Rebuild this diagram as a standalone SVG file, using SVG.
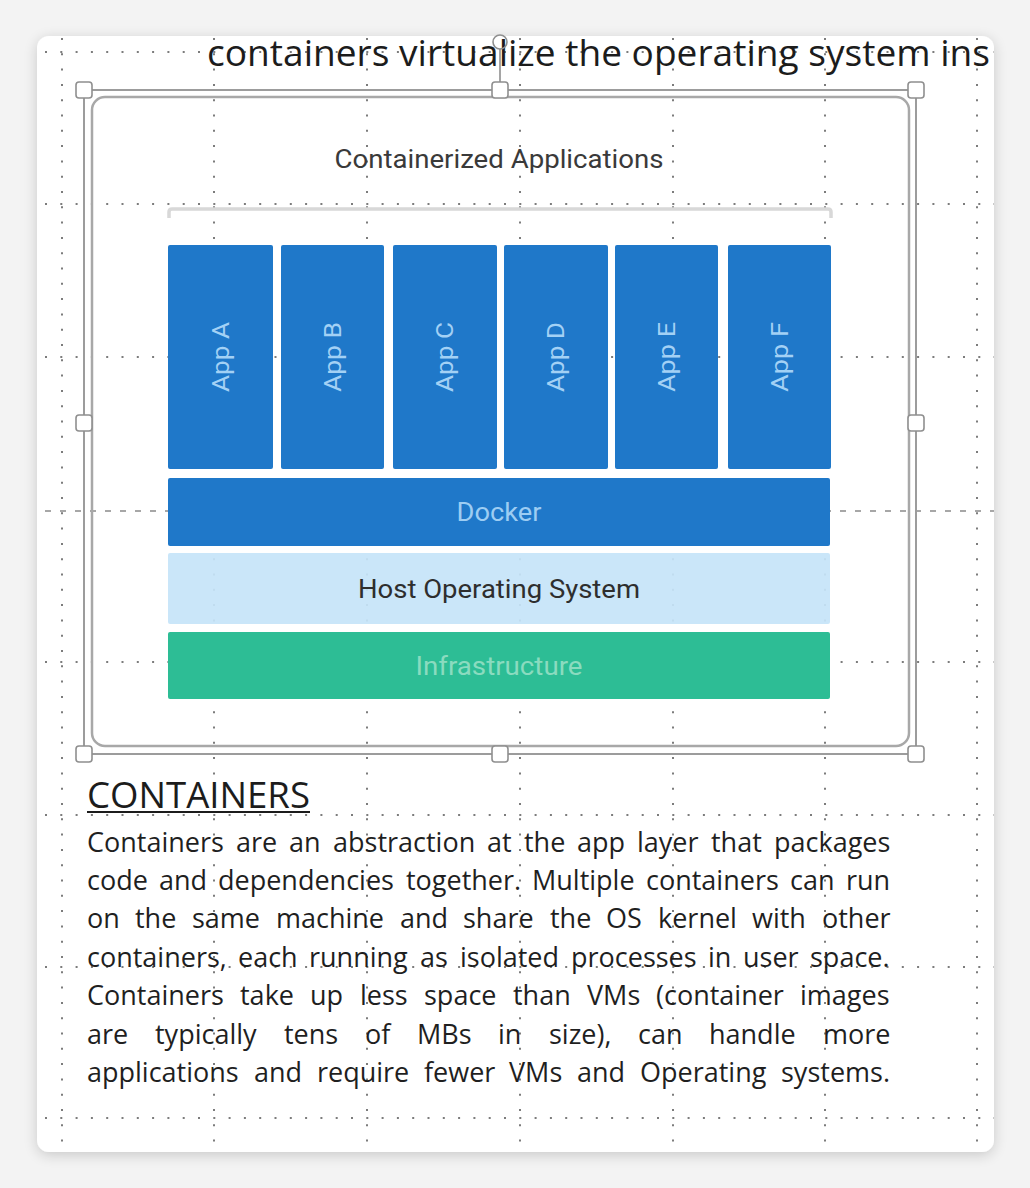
<svg xmlns="http://www.w3.org/2000/svg" width="1030" height="1188" viewBox="0 0 1030 1188">
<style>
.grid{stroke:#7c7c7c;stroke-width:2;stroke-dasharray:2 13.3;fill:none}
.gridd{stroke:#8a8a8a;stroke-width:1.6;stroke-dasharray:6 9;fill:none}
.app{fill:#1f78c9}
.applbl{font-family:Roboto,"Open Sans",sans-serif;font-size:24px;font-weight:400;fill:#a3d1f5;text-anchor:middle;dominant-baseline:central}
.lbl{font-family:Roboto,"Open Sans",sans-serif;font-size:26px;font-weight:400;text-anchor:middle}
.body{font-family:"Open Sans","Liberation Sans",sans-serif;font-size:27px;fill:#1f1f1f}
.handle{fill:#ffffff;stroke:#8f8f8f;stroke-width:1.6}
.sel{fill:none;stroke:#9c9c9c;stroke-width:2}
</style>
<defs>
<filter id="sh" x="-10%" y="-10%" width="120%" height="120%">
<feGaussianBlur in="SourceAlpha" stdDeviation="7"/>
<feOffset dx="0" dy="3"/>
<feComponentTransfer><feFuncA type="linear" slope="0.18"/></feComponentTransfer>
<feMerge><feMergeNode/><feMergeNode in="SourceGraphic"/></feMerge>
</filter>
<clipPath id="cardclip"><rect x="37" y="36" width="957" height="1116" rx="12"/></clipPath>
</defs>
<rect x="0" y="0" width="1030" height="1188" fill="#f3f3f3"/>
<rect x="37" y="36" width="957" height="1116" rx="12" fill="#ffffff" filter="url(#sh)"/>
<g clip-path="url(#cardclip)">
<g id="grid">
<path class="grid" d="M62,38V1152M214,38V1152M367,38V1152M520,38V1152M673,38V1152M825,38V1152M977,38V1152"/>
<path class="grid" d="M45,52H994M45,204H994M45,357H994M45,662H994M45,815H994M45,967H994M45,1118H994"/>
<path class="gridd" d="M45,511H994"/>
</g>
<text id="title" x="207" y="66" font-family="'Open Sans','Liberation Sans',sans-serif" font-size="36" fill="#1c1c1c" textLength="783" lengthAdjust="spacingAndGlyphs">containers virtualize the operating system ins</text>
</g>
<g id="image-frame">
<rect x="92" y="97" width="817" height="649" rx="13" fill="none" stroke="#a8a8a8" stroke-width="2.5"/>
</g>
<g id="header">
<text class="lbl" x="499" y="168" fill="#3a3a3a" textLength="329" lengthAdjust="spacingAndGlyphs">Containerized Applications</text>
<path d="M169,218V212Q169,209 172,209H828Q831,209 831,212V218" fill="none" stroke="#d8d8d8" stroke-width="3.5"/>
</g>
<g id="app-a"><rect class="app" x="168" y="245" width="105" height="224" rx="2"/><text class="applbl" transform="translate(220.5,357) rotate(-90)" textLength="70" lengthAdjust="spacingAndGlyphs">App A</text></g>
<g id="app-b"><rect class="app" x="281" y="245" width="103" height="224" rx="2"/><text class="applbl" transform="translate(332.5,357) rotate(-90)" textLength="70" lengthAdjust="spacingAndGlyphs">App B</text></g>
<g id="app-c"><rect class="app" x="393" y="245" width="104" height="224" rx="2"/><text class="applbl" transform="translate(445,357) rotate(-90)" textLength="70" lengthAdjust="spacingAndGlyphs">App C</text></g>
<g id="app-d"><rect class="app" x="504" y="245" width="104" height="224" rx="2"/><text class="applbl" transform="translate(556,357) rotate(-90)" textLength="70" lengthAdjust="spacingAndGlyphs">App D</text></g>
<g id="app-e"><rect class="app" x="615" y="245" width="103" height="224" rx="2"/><text class="applbl" transform="translate(666.5,357) rotate(-90)" textLength="70" lengthAdjust="spacingAndGlyphs">App E</text></g>
<g id="app-f"><rect class="app" x="728" y="245" width="103" height="224" rx="2"/><text class="applbl" transform="translate(779.5,357) rotate(-90)" textLength="70" lengthAdjust="spacingAndGlyphs">App F</text></g>
<g id="docker"><rect class="app" x="168" y="478" width="662" height="68" rx="2"/><text class="lbl" x="499" y="521" fill="#9dcdf3" textLength="85" lengthAdjust="spacingAndGlyphs">Docker</text></g>
<g id="host-os"><rect x="168" y="553" width="662" height="71" rx="2" fill="#c6e4f8" opacity="0.92"/><text class="lbl" x="499" y="598" fill="#2e2e2e" textLength="282" lengthAdjust="spacingAndGlyphs">Host Operating System</text></g>
<g id="infrastructure"><rect x="168" y="632" width="662" height="67" rx="2" fill="#2dbd95"/><text class="lbl" x="499" y="675" fill="#8adbbf" textLength="167" lengthAdjust="spacingAndGlyphs">Infrastructure</text></g>
<g id="selection">
<rect class="sel" x="84" y="90" width="832" height="664"/>
<line x1="500" y1="49" x2="500" y2="83" stroke="#8f8f8f" stroke-width="1.6"/>
<circle cx="500" cy="42" r="7" fill="none" stroke="#8f8f8f" stroke-width="1.6"/>
<rect class="handle" x="76" y="82" width="16" height="16" rx="3"/>
<rect class="handle" x="492" y="82" width="16" height="16" rx="3"/>
<rect class="handle" x="908" y="82" width="16" height="16" rx="3"/>
<rect class="handle" x="76" y="415" width="16" height="16" rx="3"/>
<rect class="handle" x="908" y="415" width="16" height="16" rx="3"/>
<rect class="handle" x="76" y="746" width="16" height="16" rx="3"/>
<rect class="handle" x="492" y="746" width="16" height="16" rx="3"/>
<rect class="handle" x="908" y="746" width="16" height="16" rx="3"/>
</g>
<g id="connectors"/>
<g id="heading">
<text x="87" y="808" font-family="'Open Sans','Liberation Sans',sans-serif" font-size="36" fill="#1c1c1c" textLength="223" lengthAdjust="spacingAndGlyphs">CONTAINERS</text>
<rect x="87" y="811" width="223" height="2" fill="#1c1c1c"/>
</g>
<g id="paragraph">
<text class="body" y="852"><tspan x="87">Containers</tspan><tspan x="236">are</tspan><tspan x="289">an</tspan><tspan x="333">abstraction</tspan><tspan x="487">at</tspan><tspan x="524">the</tspan><tspan x="577">app</tspan><tspan x="637">layer</tspan><tspan x="711">that</tspan><tspan x="774">packages</tspan></text>
<text class="body" y="890"><tspan x="87">code</tspan><tspan x="159">and</tspan><tspan x="218">dependencies</tspan><tspan x="406">together.</tspan><tspan x="532">Multiple</tspan><tspan x="646">containers</tspan><tspan x="790">can</tspan><tspan x="846">run</tspan></text>
<text class="body" y="928"><tspan x="87">on</tspan><tspan x="135">the</tspan><tspan x="192">same</tspan><tspan x="276">machine</tspan><tspan x="400">and</tspan><tspan x="463">share</tspan><tspan x="550">the</tspan><tspan x="606">OS</tspan><tspan x="658">kernel</tspan><tspan x="752">with</tspan><tspan x="822">other</tspan></text>
<text class="body" y="967"><tspan x="87">containers,</tspan><tspan x="238">each</tspan><tspan x="309">running</tspan><tspan x="420">as</tspan><tspan x="460">isolated</tspan><tspan x="571">processes</tspan><tspan x="708">in</tspan><tspan x="743">user</tspan><tspan x="810">space.</tspan></text>
<text class="body" y="1005"><tspan x="87">Containers</tspan><tspan x="240">take</tspan><tspan x="310">up</tspan><tspan x="360">less</tspan><tspan x="424">space</tspan><tspan x="513">than</tspan><tspan x="587">VMs</tspan><tspan x="656">(container</tspan><tspan x="800">images</tspan></text>
<text class="body" y="1044"><tspan x="87">are</tspan><tspan x="155">typically</tspan><tspan x="284">tens</tspan><tspan x="365">of</tspan><tspan x="417">MBs</tspan><tspan x="498">in</tspan><tspan x="549">size),</tspan><tspan x="638">can</tspan><tspan x="709">handle</tspan><tspan x="823">more</tspan></text>
<text class="body" y="1082"><tspan x="87">applications</tspan><tspan x="254">and</tspan><tspan x="317">require</tspan><tspan x="424">fewer</tspan><tspan x="509">VMs</tspan><tspan x="577">and</tspan><tspan x="640">Operating</tspan><tspan x="781">systems.</tspan></text>
</g>
</svg>
